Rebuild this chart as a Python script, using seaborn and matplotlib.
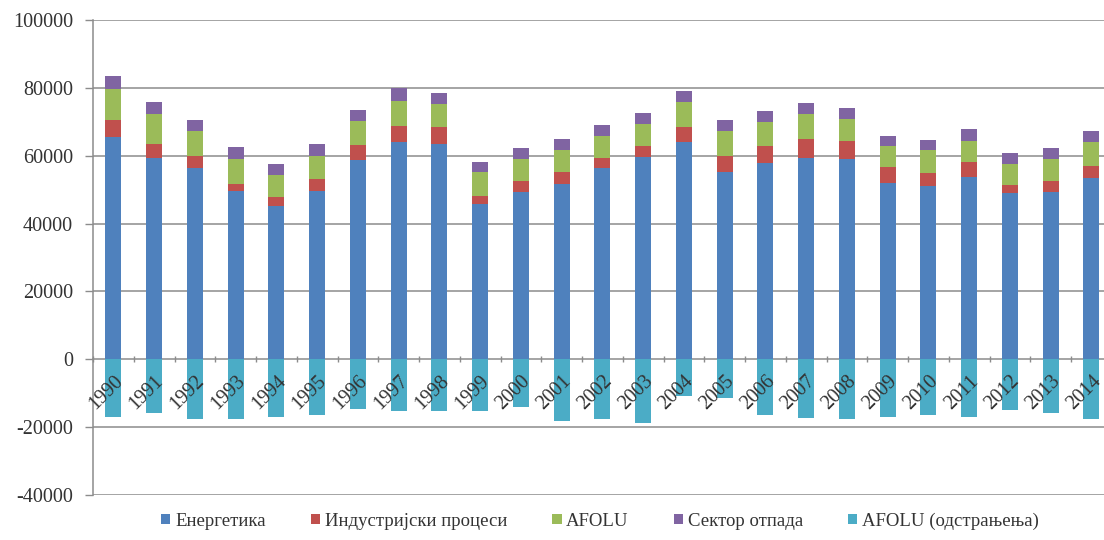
import numpy as np
import pandas as pd
import matplotlib
matplotlib.use("Agg")
import matplotlib.pyplot as plt
from matplotlib.patches import Patch
from matplotlib.ticker import FixedLocator
import seaborn as sns

# Годишње емисије по секторима (Gg CO2 eq)
years = [str(y) for y in range(1990, 2015)]
energetika = [65400, 59200, 56250, 49500, 45200, 49650, 58800, 63900, 63400, 45700,
              49350, 51600, 56250, 59500, 63900, 55250, 57800, 59200, 59000, 52100,
              50950, 53600, 48950, 49350, 53300]
industrija = [5100, 4200, 3550, 2100, 2500, 3450, 4300, 4900, 4950, 2500,
              3250, 3650, 3050, 3250, 4450, 4750, 5100, 5700, 5400, 4450,
              3850, 4600, 2400, 3250, 3550]
afolu = [9150, 8900, 7550, 7400, 6600, 6900, 7200, 7400, 6850, 6900,
         6400, 6500, 6600, 6550, 7550, 7350, 7100, 7400, 6400, 6200,
         6950, 6200, 6150, 6400, 7050]
otpad = [3750, 3600, 3250, 3450, 3200, 3400, 3250, 3650, 3300, 3100,
         3150, 3150, 3200, 3200, 3250, 3150, 3250, 3100, 3250, 2950,
         2950, 3450, 3250, 3250, 3250]
afolu_odstranjenja = [-16900, -15900, -17700, -17500, -16900, -16300, -14750, -15250, -15250, -15250,
                      -14050, -18200, -17700, -18700, -10800, -11500, -16500, -17200, -17700, -17000,
                      -16500, -17000, -14950, -15750, -17700]

series_names = ["Енергетика", "Индустријски процеси", "AFOLU", "Сектор отпада",
                "AFOLU (одстрањења)"]
colors = ["#4F81BD", "#C0504D", "#9BBB59", "#8064A2", "#4BACC6"]

df = pd.DataFrame({
    "year": years,
    "energetika": energetika,
    "industrija": industrija,
    "afolu": afolu,
    "otpad": otpad,
    "odstranjenja": afolu_odstranjenja,
})
# Кумулативне висине за наслагане стубове
df["c1"] = df["energetika"]
df["c2"] = df["c1"] + df["industrija"]
df["c3"] = df["c2"] + df["afolu"]
df["c4"] = df["c3"] + df["otpad"]

sns.set_theme(style="white")
plt.rcParams["font.family"] = ["Liberation Serif", "DejaVu Serif"]

W, H = 1104, 540
fig = plt.figure(figsize=(W / 100, H / 100), dpi=100)
left_px, top_px, bottom_px = 93, 20, 495
cat_w = 40.75
ax = fig.add_axes([left_px / W, 1 - bottom_px / H, 25 * cat_w / W, (bottom_px - top_px) / H])

bw = 0.39
for col, c in zip(["c4", "c3", "c2", "c1"], [colors[3], colors[2], colors[1], colors[0]]):
    sns.barplot(data=df, x="year", y=col, color=c, width=bw, saturation=1,
                order=years, ax=ax, zorder=2, linewidth=0)
sns.barplot(data=df, x="year", y="odstranjenja", color=colors[4], width=bw, saturation=1,
            order=years, ax=ax, zorder=2, linewidth=0)

ax.set_xlim(-0.5, 24.5)
ax.set_ylim(-40000, 100000)
yt = list(range(-40000, 100001, 20000))
ax.set_yticks(yt)
ax.set_yticklabels([str(v) for v in yt], fontsize=14.5, color="#333333")
ax.grid(False)
for v in yt:
    if v != 0:
        ax.axhline(v, color="#8c8c8c", linewidth=1.1, zorder=0.5)
ax.tick_params(axis="y", which="major", length=6, width=1, color="#8c8c8c", pad=8.4, left=True)

for s in ["top", "right"]:
    ax.spines[s].set_visible(False)
ax.spines["left"].set_color("#8c8c8c")
ax.spines["left"].set_linewidth(1.1)
ax.spines["bottom"].set_position(("data", 0))
ax.spines["bottom"].set_color("#8c8c8c")
ax.spines["bottom"].set_linewidth(1.1)
ax.spines["bottom"].set_zorder(1)

ax.set_xticks(range(len(years)))
ax.set_xticklabels(years, rotation=45, ha="right", va="top", rotation_mode="anchor",
                   fontsize=14.5, color="#333333")
ax.tick_params(axis="x", which="major", length=0, pad=9)
ax.xaxis.set_minor_locator(FixedLocator(np.arange(-0.5, 25, 1)))
ax.tick_params(axis="x", which="minor", length=4, width=1, color="#8c8c8c", direction="inout",
               bottom=True)
ax.xaxis.set_zorder(3)
ax.set_xlabel("")
ax.set_ylabel("")

handles = [Patch(facecolor=c, edgecolor="none") for c in colors]
fig.legend(handles, series_names, loc="center", bbox_to_anchor=(600 / W, 1 - 521 / H),
           ncol=5, frameon=False, fontsize=13.5, handlelength=0.5, handleheight=0.5,
           handletextpad=0.25, columnspacing=2.4, labelcolor="#333333")

fig.savefig("out.png", dpi=100)
